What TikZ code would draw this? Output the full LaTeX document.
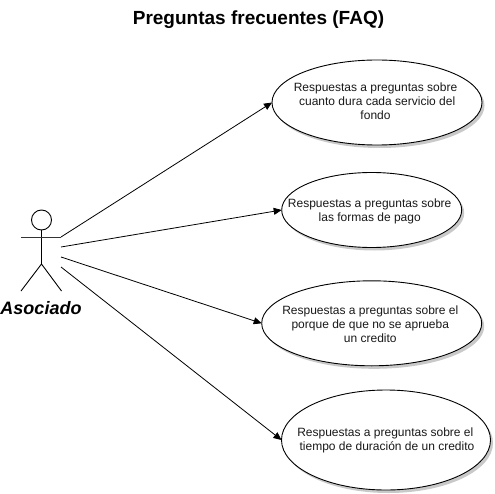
\documentclass[tikz,border=0pt]{standalone}
\usepackage{fontspec}
\setmainfont{Liberation Sans}
\usetikzlibrary{arrows.meta,shapes.geometric}
\tikzset{
  usecase/.style={ellipse,draw=black,fill=white,line width=0.9pt,inner sep=0pt,outer sep=0pt},
  usetext/.style={align=center,font=\fontsize{12}{14.2}\selectfont,text=black!90,inner sep=0pt},
  shade drop/.style={fill=black!35,draw=none,opacity=0.6},
  stick/.style={line width=0.9pt,draw=black},
  link/.style={line width=0.8pt,draw=black,-{Triangle[length=8pt,width=7pt]}},
}
\newcommand{\uc}[5]{%
  \fill[shade drop] (#2+2.5,#3+3) ellipse [x radius=#4,y radius=#5];
  \node[usecase,minimum width=2*#4 pt,minimum height=2*#5 pt] (#1) at (#2,#3) {};
}
\begin{document}
\begin{tikzpicture}[x=1pt,y=-1pt]
\useasboundingbox (0,0) rectangle (494,494);
\fill[white] (0,0) rectangle (494,494);
\node[font=\bfseries\fontsize{19}{22}\selectfont,inner sep=0pt] (title) at (258.5,19.5) {Preguntas frecuentes (FAQ)};
\uc{ea}{377}{102.5}{105}{42.5}
\node[usetext] (ta) at (375.5,101) {Respuestas a preguntas sobre\\\ cuanto dura cada servicio del\\fondo};
\uc{eb}{371.7}{210}{90}{37.5}
\node[usetext] (tb) at (369.7,211) {Respuestas a preguntas sobre\\las formas de pago};
\uc{ec}{371.7}{323.3}{110}{42.5}
\node[usetext] (tc) at (370.3,324) {Respuestas a preguntas sobre el\\porque de que no se aprueba\\un credito};
\uc{ed}{386}{440}{104.5}{50}
\node[usetext] (td) at (385.3,440.7) {Respuestas a preguntas sobre el\\\ tiempo de duración de un credito};
% actor
\node[circle,stick,draw,fill=white,minimum size=20pt,inner sep=0pt] (head) at (41.5,220) {};
\coordinate (hip) at (41.5,264);
\coordinate (armL) at (21,237);
\coordinate (armR) at (61,237);
\coordinate (legL) at (21,291);
\coordinate (legR) at (61.5,291);
\draw[stick] (head.south) -- (hip);
\draw[stick,draw=black!80] (armL) -- (armR);
\draw[stick] (legL) -- (hip) -- (legR);
\node[font=\bfseries\itshape\fontsize{18}{22}\selectfont,inner sep=0pt] (lab) at (41,308) {Asociado};
\coordinate (sa) at (61,237);
\coordinate (sb) at (61,247);
\coordinate (sc) at (61,257);
\coordinate (sd) at (61,267);
\draw[link] (sa) -- (ea.west);
\draw[link] (sb) -- (eb.west);
\draw[link] (sc) -- (ec.west);
\draw[link] (sd) -- (ed.west);
\end{tikzpicture}
\end{document}
